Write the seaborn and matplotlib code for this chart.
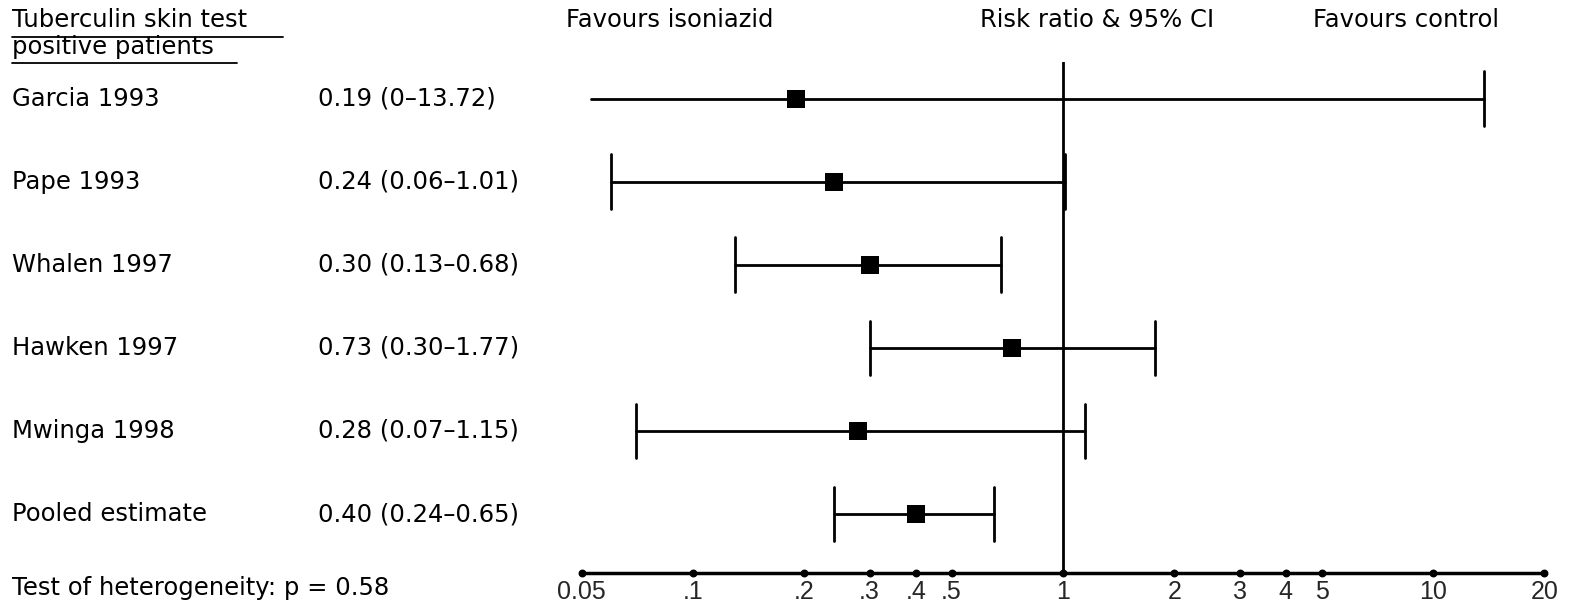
import matplotlib
matplotlib.use("Agg")
from matplotlib import pyplot as plt
from matplotlib import transforms
import numpy as np
import pandas as pd
import seaborn as sns

studies = ["Garcia 1993", "Pape 1993", "Whalen 1997", "Hawken 1997",
           "Mwinga 1998", "Pooled estimate"]
rr = [0.19, 0.24, 0.30, 0.73, 0.28, 0.40]
ci_low = [0.0, 0.06, 0.13, 0.30, 0.07, 0.24]
ci_high = [13.72, 1.01, 0.68, 1.77, 1.15, 0.65]
tick_vals = [0.05, 0.1, 0.2, 0.3, 0.4, 0.5, 1, 2, 3, 4, 5, 10, 20]
tick_labels = ["0.05", ".1", ".2", ".3", ".4", ".5", "1", "2", "3", "4", "5", "10", "20"]

sns.set_theme(style="white")
plt.rcParams["font.family"] = ["DejaVu Sans"]

df = pd.DataFrame({"study": studies, "rr": rr, "lo": ci_low, "hi": ci_high})
df["row"] = np.arange(1, len(df) + 1)

W, H = 1576, 608
fig = plt.figure(figsize=(W / 100, H / 100), dpi=100)
ax = fig.add_axes([0.369, 0.0576, 0.611, 0.84])
ax.set_xscale("log")
ax.set_xlim(0.05, 20)
ax.set_ylim(6.71, 0.56)

ink = "black"
floor = 0.053  # lower limit of 0 can't be shown on a log scale
cap = 0.33
for _, r in df.iterrows():
    lo = max(r["lo"], floor)
    ax.plot([lo, r["hi"]], [r["row"], r["row"]], color=ink, lw=2)
    if r["lo"] > 0:
        ax.plot([lo, lo], [r["row"] - cap, r["row"] + cap], color=ink, lw=2)
    ax.plot([r["hi"], r["hi"]], [r["row"] - cap, r["row"] + cap], color=ink, lw=2)

sns.scatterplot(data=df, x="rr", y="row", marker="s", s=170, color=ink,
                edgecolor=ink, linewidth=0, ax=ax, zorder=5)
ax.axvline(1, color=ink, lw=2)

for side in ["top", "right", "left"]:
    ax.spines[side].set_visible(False)
ax.spines["bottom"].set_linewidth(2.5)
ax.spines["bottom"].set_color(ink)
ax.set_yticks([])
ax.set_xticks(tick_vals)
ax.set_xticklabels(tick_labels, family=["Liberation Sans", "DejaVu Sans"], fontsize=18)
ax.minorticks_off()
ax.tick_params(axis="x", length=0, pad=5)
ax.scatter(tick_vals, [6.71] * len(tick_vals), s=22, color=ink, clip_on=False, zorder=6)
ax.set_xlabel("")
ax.set_ylabel("")

fs = 17.5
row_tf = transforms.blended_transform_factory(fig.transFigure, ax.transData)
for _, r in df.iterrows():
    if r["lo"] == 0:
        label = f"{r['rr']:.2f} (0\u2013{r['hi']:.2f})"
    else:
        label = f"{r['rr']:.2f} ({r['lo']:.2f}\u2013{r['hi']:.2f})"
    ax.text(12 / W, r["row"], r["study"], transform=row_tf,
            ha="left", va="center", fontsize=fs, color=ink)
    ax.text(318 / W, r["row"], label, transform=row_tf,
            ha="left", va="center", fontsize=fs, color=ink)

fig.text(12 / W, 1 - 20 / H, "Tuberculin skin test", fontsize=fs, va="center",
         ha="left", color=ink)
fig.text(12 / W, 1 - 47 / H, "positive patients", fontsize=fs, va="center",
         ha="left", color=ink)
fig.add_artist(plt.Line2D([12 / W, 283 / W], [1 - 37 / H] * 2, color=ink, lw=1.3))
fig.add_artist(plt.Line2D([12 / W, 237 / W], [1 - 63 / H] * 2, color=ink, lw=1.3))

fig.text(670 / W, 1 - 20 / H, "Favours isoniazid", fontsize=fs, ha="center", va="center", color=ink)
fig.text(1097 / W, 1 - 20 / H, "Risk ratio & 95% CI", fontsize=fs, ha="center", va="center", color=ink)
fig.text(1406 / W, 1 - 20 / H, "Favours control", fontsize=fs, ha="center", va="center", color=ink)
fig.text(12 / W, 1 - 588 / H, "Test of heterogeneity: p = 0.58", fontsize=fs,
         ha="left", va="center", color=ink)

fig.savefig("out.png", dpi=100, facecolor="white")
